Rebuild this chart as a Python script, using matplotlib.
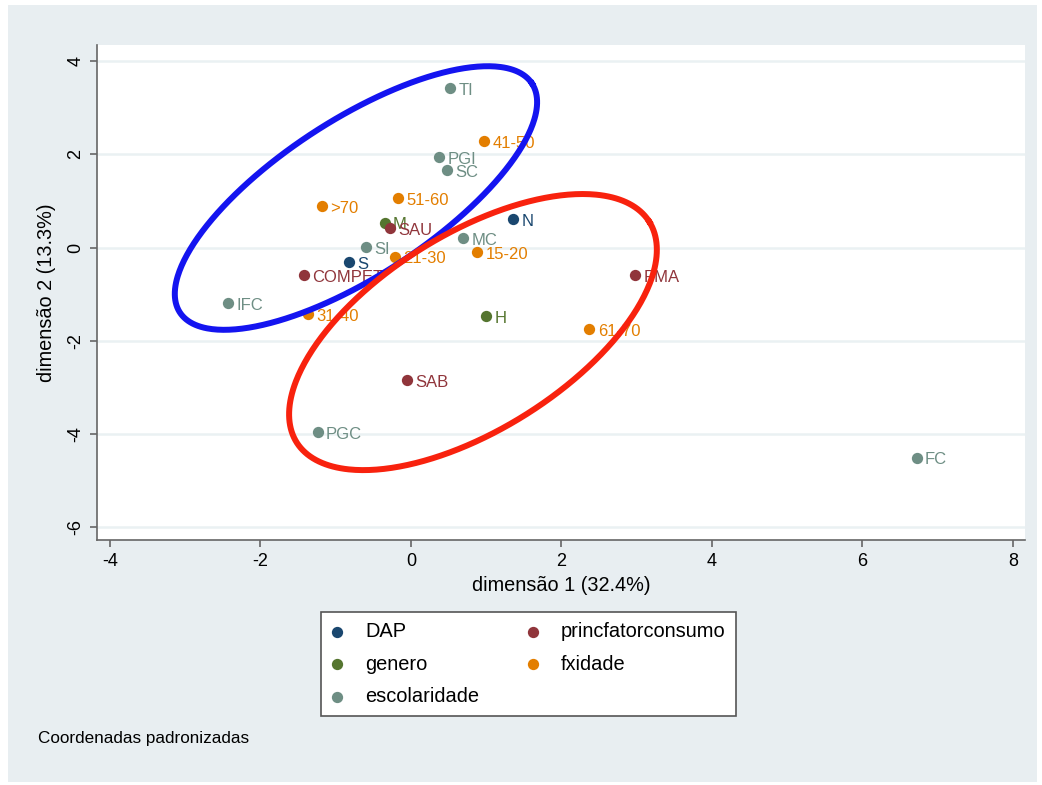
#MCA coordinate plot with two highlighted groups
import matplotlib.pyplot as plt
import numpy as np
from matplotlib.patches import Rectangle

plt.rcParams['font.family'] = ['Liberation Sans', 'DejaVu Sans']
plt.rcParams['axes.unicode_minus'] = False

# category coordinates (dimension 1, dimension 2)
dap_labels = ['N', 'S']
dap_x = [1.36, -0.82]
dap_y = [0.61, -0.31]

genero_labels = ['M', 'H']
genero_x = [-0.35, 1.00]
genero_y = [0.53, -1.47]

escol_labels = ['TI', 'PGI', 'SC', 'MC', 'SI', 'IFC', 'PGC', 'FC']
escol_x = [0.52, 0.37, 0.48, 0.69, -0.60, -2.43, -1.24, 6.72]
escol_y = [3.42, 1.94, 1.66, 0.20, 0.01, -1.19, -3.96, -4.51]

princ_labels = ['SAU', 'COMPET', 'PMA', 'SAB']
princ_x = [-0.28, -1.42, 2.98, -0.05]
princ_y = [0.42, -0.59, -0.59, -2.84]

fxidade_labels = ['41-50', '51-60', '>70', '21-30', '15-20', '31-40', '61-70']
fxidade_x = [0.97, -0.17, -1.18, -0.21, 0.88, -1.37, 2.37]
fxidade_y = [2.28, 1.06, 0.89, -0.20, -0.10, -1.43, -1.75]

groups = [
    ('DAP', dap_labels, dap_x, dap_y, '#1a476f'),
    ('genero', genero_labels, genero_x, genero_y, '#55752f'),
    ('escolaridade', escol_labels, escol_x, escol_y, '#6e8e84'),
    ('princfatorconsumo', princ_labels, princ_x, princ_y, '#90353b'),
    ('fxidade', fxidade_labels, fxidade_x, fxidade_y, '#e37e00'),
]

fig = plt.figure(figsize=(10.42, 7.85), dpi=100, facecolor='white')
fig.patches.append(Rectangle((0.008, 0.004), 0.987, 0.989, transform=fig.transFigure,
                             facecolor='#e8eef1', edgecolor='none', zorder=-10))
ax = fig.add_axes([0.0931, 0.3121, 0.8906, 0.6306])
ax.set_facecolor('white')

for name, labs, xs, ys, col in groups:
    ax.scatter(xs, ys, s=66, color=col, label=name, zorder=3, linewidths=0)
    for lab, x, y in zip(labs, xs, ys):
        ax.annotate(lab, (x, y), xytext=(6, -1.5), textcoords='offset points',
                    va='center', ha='left', color=col, fontsize=12, zorder=3)

# hand drawn highlight ellipses
t = np.linspace(0, 2 * np.pi, 400)
ellipses = [
    ((-0.731, 1.062), (2.340, 2.453), (0.565, -1.403), '#1414f0'),
    ((0.824, -1.812), (2.344, 2.363), (0.690, -1.782), '#f8220e'),
]
for (cx, cy), (ux, uy), (vx, vy), col in ellipses:
    ax.plot(cx + ux * np.cos(t) + vx * np.sin(t), cy + uy * np.cos(t) + vy * np.sin(t),
            color=col, lw=4.3, zorder=5, clip_on=False)

ax.set_xlim(-4.172, 8.16)
ax.set_ylim(-6.27, 4.343)
ax.set_xticks([-4, -2, 0, 2, 4, 6, 8])
ax.set_yticks([-6, -4, -2, 0, 2, 4])
ax.grid(axis='y', color='#eaf1f3', lw=1.8)
ax.set_axisbelow(True)
for s in ['top', 'right']:
    ax.spines[s].set_visible(False)
for s in ['left', 'bottom']:
    ax.spines[s].set_color('#666666')
    ax.spines[s].set_linewidth(1.2)
ax.tick_params(colors='#666666', labelcolor='black', labelsize=13, length=5, width=1.2, pad=4)
plt.setp(ax.get_yticklabels(), rotation=90, va='center')
ax.set_xlabel('dimensão 1 (32.4%)', fontsize=14.3, labelpad=5)
ax.set_ylabel('dimensão 2 (13.3%)', fontsize=14.3, labelpad=8)

handles, labels = ax.get_legend_handles_labels()
leg = fig.legend(handles, labels, loc='upper center', bbox_to_anchor=(0.507, 0.2204), ncol=2,
                 fontsize=14.4, frameon=True, fancybox=False, edgecolor='#555555',
                 facecolor='white', framealpha=1, handlelength=0.6, handletextpad=1.1,
                 columnspacing=2.4, borderpad=0.5, labelspacing=0.68, markerscale=1.0,
                 borderaxespad=0)
leg.get_frame().set_linewidth(1.2)

fig.text(0.036, 0.054, 'Coordenadas padronizadas', fontsize=12.3)

plt.savefig('out.png', dpi=100, facecolor=fig.get_facecolor())
